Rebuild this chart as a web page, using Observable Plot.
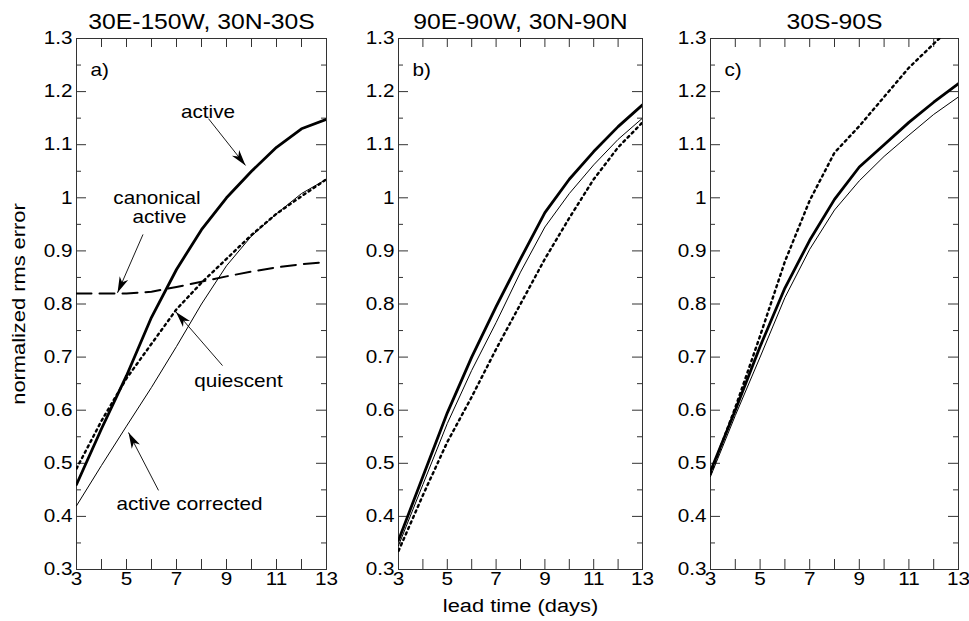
<!DOCTYPE html>
<html><head><meta charset="utf-8">
<script src="https://cdn.jsdelivr.net/npm/d3@7"></script>
<script src="https://cdn.jsdelivr.net/npm/@observablehq/plot@0.6"></script>
<style>
body{margin:0;background:#fff;}
#chart{position:relative;width:969px;height:621px;background:#fff;overflow:hidden;}
#chart svg{position:absolute;top:0;}
</style></head><body><div id="chart"></div>
<script>
// ---- data ----
const days = [3, 4, 5, 6, 7, 8, 9, 10, 11, 12, 13];
const xLabels = [3, 5, 7, 9, 11, 13];
const yMajor = [0.3, 0.4, 0.5, 0.6, 0.7, 0.8, 0.9, 1.0, 1.1, 1.2, 1.3];
const yMinor = [0.35, 0.45, 0.55, 0.65, 0.75, 0.85, 0.95, 1.05, 1.15, 1.25];

const panelTitles = ["30E-150W, 30N-30S", "90E-90W, 30N-90N", "30S-90S"];
const panelLetters = ["a)", "b)", "c)"];

// panel a
const activeA    = [0.46, 0.565, 0.665, 0.775, 0.865, 0.94, 1.0, 1.05, 1.095, 1.13, 1.148];
const quiescentA = [0.49, 0.58, 0.66, 0.725, 0.79, 0.84, 0.885, 0.93, 0.97, 1.003, 1.035];
const correctedA = [0.42, 0.496, 0.57, 0.643, 0.72, 0.80, 0.872, 0.928, 0.97, 1.008, 1.035];
const canonicalA = [0.82, 0.82, 0.82, 0.823, 0.832, 0.842, 0.852, 0.861, 0.869, 0.875, 0.879];
// panel b
const activeB    = [0.355, 0.475, 0.595, 0.70, 0.795, 0.885, 0.972, 1.035, 1.087, 1.134, 1.175];
const correctedB = [0.345, 0.46, 0.575, 0.675, 0.765, 0.86, 0.945, 1.008, 1.062, 1.11, 1.15];
const quiescentB = [0.335, 0.44, 0.54, 0.625, 0.715, 0.80, 0.885, 0.962, 1.035, 1.095, 1.142];
// panel c
const activeC    = [0.485, 0.60, 0.72, 0.83, 0.92, 0.997, 1.058, 1.10, 1.142, 1.18, 1.215];
const correctedC = [0.475, 0.59, 0.70, 0.812, 0.903, 0.977, 1.032, 1.078, 1.118, 1.157, 1.19];
const quiescentC = [0.48, 0.605, 0.74, 0.88, 0.995, 1.085, 1.135, 1.19, 1.245, 1.29, 1.335];

// annotations (panel a)
const annText  = ["active", "canonical", "active", "quiescent", "active corrected"];
const annDay   = [8.26, 6.22, 6.32, 9.48, 7.52];
const annValue = [1.162, 0.999, 0.964, 0.654, 0.422];
const arrowTailDay   = [8.28, 5.66, 8.84, 6.28];
const arrowTailValue = [1.149, 0.931, 0.684, 0.449];
const arrowTipDay    = [9.76, 4.64, 6.98, 5.08];
const arrowTipValue  = [1.061, 0.821, 0.785, 0.558];

const seriesByPanel = [
  {active: activeA, corrected: correctedA, quiescent: quiescentA, canonical: canonicalA},
  {active: activeB, corrected: correctedB, quiescent: quiescentB},
  {active: activeC, corrected: correctedC, quiescent: quiescentC}
];

// ---- layout ----
const H = 621, MT = 38, MB = 52;
const layout = [
  {left: 0,   width: 340, ml: 76, mr: 14},
  {left: 340, width: 316, ml: 58, mr: 14},
  {left: 656, width: 313, ml: 54, mr: 11}
];
const FONT = "'Liberation Sans', Arial, Helvetica, sans-serif";
const STRETCH = 1.15;
const ink = "#333";

const arrowHead = {
  draw(ctx) {
    const L = 16, w = 4.6;
    ctx.moveTo(0, 0);
    ctx.lineTo(-L, -w);
    ctx.lineTo(-L * 0.72, 0);
    ctx.lineTo(-L, w);
    ctx.closePath();
  }
};

const fmt = d => String(+d.toFixed(1));

function makePanel(p) {
  const {left, width, ml, mr} = layout[p];
  const pw = width - ml - mr, ph = H - MT - MB;
  const s = seriesByPanel[p];
  const rows = [];
  for (const key of Object.keys(s)) days.forEach((d, i) => rows.push({day: d, value: s[key][i], series: key}));
  const sel = k => rows.filter(r => r.series === k);

  const marks = [
    Plot.frame({stroke: ink, strokeWidth: 1}),
    Plot.tickY(yMajor, {y: d => d, insetRight: pw - 10, stroke: ink}),
    Plot.tickY(yMajor, {y: d => d, insetLeft: pw - 10, stroke: ink}),
    Plot.tickY(yMinor, {y: d => d, insetRight: pw - 5, stroke: ink}),
    Plot.tickY(yMinor, {y: d => d, insetLeft: pw - 5, stroke: ink}),
    Plot.tickX(days, {x: d => d, insetTop: ph - 10, stroke: ink}),
    Plot.tickX(days, {x: d => d, insetBottom: ph - 9, stroke: ink}),
    Plot.axisY({ticks: yMajor, tickSize: 0, tickPadding: 4, tickFormat: fmt, label: null, fontSize: 18}),
    Plot.axisX({ticks: xLabels, tickSize: 0, tickPadding: 3, label: null, fontSize: 18}),
    Plot.text([panelTitles[p]], {text: d => d, frameAnchor: "top", lineAnchor: "middle", textAnchor: "middle", dy: -16, fontSize: 21.5}),
    Plot.text([panelLetters[p]], {text: d => d, frameAnchor: "top-left", lineAnchor: "middle", textAnchor: "start", dx: 14, dy: 32, fontSize: 18}),
    Plot.line(sel("corrected"), {x: "day", y: "value", stroke: "black", strokeWidth: 1, clip: true}),
    Plot.line(sel("quiescent"), {x: "day", y: "value", stroke: "black", strokeWidth: 2.4, strokeDasharray: "2.2,3.8", clip: true}),
    Plot.line(sel("active"), {x: "day", y: "value", stroke: "black", strokeWidth: 2.8, clip: true})
  ];
  if (s.canonical) {
    marks.push(Plot.line(sel("canonical"), {x: "day", y: "value", stroke: "black", strokeWidth: 2, strokeDasharray: "15,8", clip: true}));
  }
  if (p === 0) {
    marks.push(Plot.text(["normalized rms error"], {text: d => d, frameAnchor: "left", lineAnchor: "middle", textAnchor: "middle", dx: -58, rotate: -90, fontSize: 19}));
    const ai = annText.map((_, i) => i);
    marks.push(Plot.text(ai, {x: i => annDay[i], y: i => annValue[i], text: i => annText[i], fontSize: 18}));
    const ri = arrowTipDay.map((_, i) => i);
    marks.push(Plot.link(ri, {x1: i => arrowTailDay[i], y1: i => arrowTailValue[i], x2: i => arrowTipDay[i], y2: i => arrowTipValue[i], stroke: "black", strokeWidth: 0.9}));
    marks.push(Plot.dot(ri, {
      x: i => arrowTipDay[i], y: i => arrowTipValue[i], symbol: arrowHead, fill: "black", stroke: "none",
      rotate: i => Math.atan2(-(arrowTipValue[i] - arrowTailValue[i]) * ph / 1.0, (arrowTipDay[i] - arrowTailDay[i]) * pw / 10) * 180 / Math.PI
    }));
  }
  if (p === 1) {
    marks.push(Plot.text(["lead time (days)"], {text: d => d, frameAnchor: "bottom", lineAnchor: "middle", textAnchor: "middle", dy: 36, fontSize: 19}));
  }

  const svg = Plot.plot({
    width, height: H, marginLeft: ml, marginRight: mr, marginTop: MT, marginBottom: MB,
    x: {domain: [3, 13]}, y: {domain: [0.3, 1.3]},
    style: {fontFamily: FONT, fontSize: "18px", color: "black", background: "transparent", overflow: "visible"},
    marks
  });
  svg.style.left = left + "px";
  // widen glyphs horizontally (around each text's own anchor) to match the reference typeface proportions
  svg.querySelectorAll("text").forEach(t => {
    const tr = t.getAttribute("transform") || "";
    const xa = t.getAttribute("x");
    const x = xa && /^-?[\d.]+$/.test(xa.trim()) ? +xa : 0;
    t.setAttribute("transform", `${tr} translate(${x},0) scale(${STRETCH},1) translate(${-x},0)`);
  });
  return svg;
}

const chart = document.getElementById("chart");
for (let p = 0; p < 3; p++) chart.appendChild(makePanel(p));
</script></body></html>
